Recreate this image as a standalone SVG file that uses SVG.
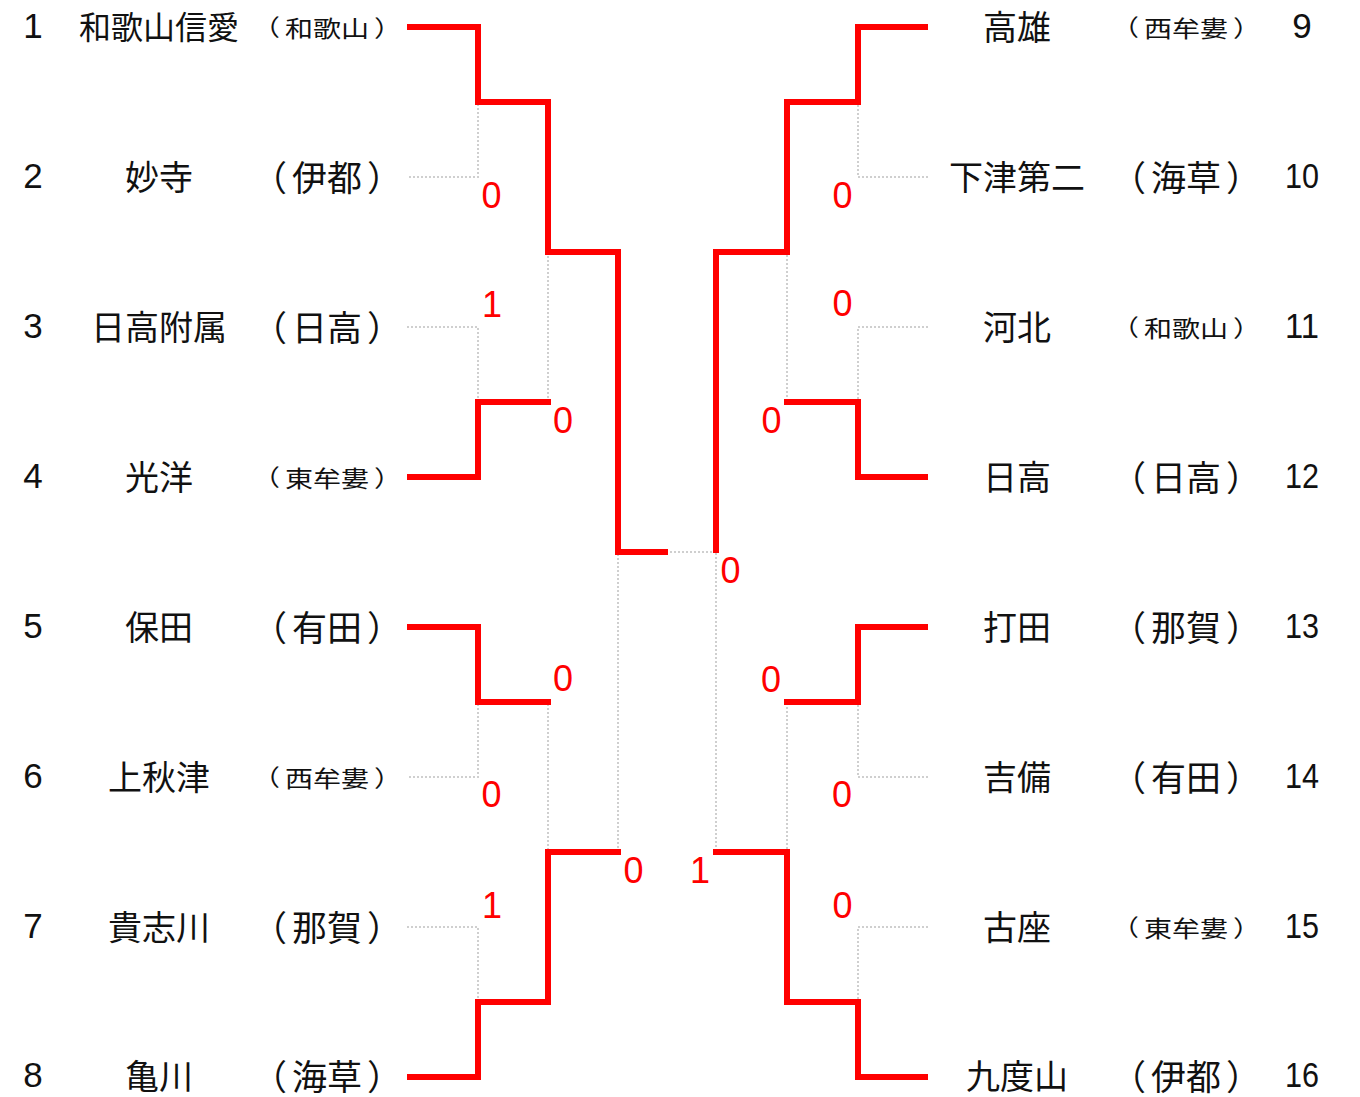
<svg xmlns="http://www.w3.org/2000/svg" width="1360" height="1097" viewBox="0 0 1360 1097">
<style>
.bg{fill:#fff}
.num{font-family:"Liberation Sans",Arial,sans-serif;font-size:35px;fill:#111;text-anchor:middle;dominant-baseline:central}
.name{font-family:"Noto Sans CJK JP","Noto Sans CJK SC",sans-serif;font-size:34px;fill:#111;text-anchor:middle;dominant-baseline:central}
.pref{font-family:"Noto Sans CJK JP","Noto Sans CJK SC",sans-serif;font-size:35px;fill:#111;text-anchor:middle;dominant-baseline:central}
.prefs{font-family:"Noto Sans CJK JP","Noto Sans CJK SC",sans-serif;font-size:23px;fill:#111;text-anchor:middle;dominant-baseline:central}
.grey{fill:none;stroke:#cfcfcf;stroke-width:2;stroke-dasharray:2 2}
.red{fill:none;stroke:#ff0000;stroke-width:6;stroke-linejoin:miter;stroke-linecap:butt}
.score{font-family:"Liberation Sans",Arial,sans-serif;font-size:36px;fill:#ff0000;text-anchor:middle}
</style>
<rect class="bg" x="0" y="0" width="1360" height="1097"/>
<g id="connectors">
<g id="bracket-grey">
<path class="grey" d="M407 27 H478 V177 H407"/>
<path class="grey" d="M407 327 H478 V477 H407"/>
<path class="grey" d="M407 627 H478 V777 H407"/>
<path class="grey" d="M407 927 H478 V1077 H407"/>
<path class="grey" d="M478 102 H548 V402 H478"/>
<path class="grey" d="M478 702 H548 V1002 H478"/>
<path class="grey" d="M548 252 H618 V852 H548"/>
<path class="grey" d="M618 552 H716"/>
<path class="grey" d="M928 27 H858 V177 H928"/>
<path class="grey" d="M928 327 H858 V477 H928"/>
<path class="grey" d="M928 627 H858 V777 H928"/>
<path class="grey" d="M928 927 H858 V1077 H928"/>
<path class="grey" d="M858 102 H787 V402 H858"/>
<path class="grey" d="M858 702 H787 V1002 H858"/>
<path class="grey" d="M787 252 H716 V852 H787"/>
</g>
<g id="bracket-red">
<path class="red" d="M407 27 H478 V102 H548 V252 H618 V552 H668"/>
<path class="red" d="M407 477 H478 V402 H551"/>
<path class="red" d="M407 627 H478 V702 H551"/>
<path class="red" d="M407 1077 H478 V1002 H548 V852 H621"/>
<path class="red" d="M928 27 H858 V102 H787 V252 H716 V553"/>
<path class="red" d="M928 477 H858 V402 H784"/>
<path class="red" d="M928 627 H858 V702 H784"/>
<path class="red" d="M928 1077 H858 V1002 H787 V852 H713"/>
</g>
</g>
<g id="scores">
<text class="score" x="491.5" y="208">0</text>
<text class="score" x="492" y="317">1</text>
<text class="score" x="563" y="433">0</text>
<text class="score" x="563" y="691">0</text>
<text class="score" x="491.5" y="807">0</text>
<text class="score" x="633.5" y="883">0</text>
<text class="score" x="492" y="918">1</text>
<text class="score" x="730.5" y="583">0</text>
<text class="score" x="842.5" y="208">0</text>
<text class="score" x="842.5" y="316">0</text>
<text class="score" x="771.5" y="433">0</text>
<text class="score" x="771" y="692">0</text>
<text class="score" x="842" y="807">0</text>
<text class="score" x="700" y="883">1</text>
<text class="score" x="842.5" y="918">0</text>
</g>
<g id="team-1"><text class="num" x="33" y="25">1</text><text class="name" x="159" y="25" style="font-size:32px">和歌山信愛</text><text class="prefs" transform="translate(327 26) scale(1.22 1)">（<tspan dx="4">和歌山</tspan><tspan dx="4">）</tspan></text></g>
<g id="team-2"><text class="num" x="33" y="175">2</text><text class="name" x="159" y="175">妙寺</text><text class="pref" x="327" y="175">（<tspan dx="5">伊都</tspan><tspan dx="5">）</tspan></text></g>
<g id="team-3"><text class="num" x="33" y="325">3</text><text class="name" x="159" y="325">日高附属</text><text class="pref" x="327" y="325">（<tspan dx="5">日高</tspan><tspan dx="5">）</tspan></text></g>
<g id="team-4"><text class="num" x="33" y="475">4</text><text class="name" x="159" y="475">光洋</text><text class="prefs" transform="translate(327 476) scale(1.22 1)">（<tspan dx="4">東牟婁</tspan><tspan dx="4">）</tspan></text></g>
<g id="team-5"><text class="num" x="33" y="625">5</text><text class="name" x="159" y="625">保田</text><text class="pref" x="327" y="625">（<tspan dx="5">有田</tspan><tspan dx="5">）</tspan></text></g>
<g id="team-6"><text class="num" x="33" y="775">6</text><text class="name" x="159" y="775">上秋津</text><text class="prefs" transform="translate(327 776) scale(1.22 1)">（<tspan dx="4">西牟婁</tspan><tspan dx="4">）</tspan></text></g>
<g id="team-7"><text class="num" x="33" y="925">7</text><text class="name" x="159" y="925">貴志川</text><text class="pref" x="327" y="925">（<tspan dx="5">那賀</tspan><tspan dx="5">）</tspan></text></g>
<g id="team-8"><text class="num" x="33" y="1074">8</text><text class="name" x="159" y="1074">亀川</text><text class="pref" x="327" y="1074">（<tspan dx="5">海草</tspan><tspan dx="5">）</tspan></text></g>
<g id="team-9"><text class="name" x="1017" y="25">高雄</text><text class="prefs" transform="translate(1186 26) scale(1.22 1)">（<tspan dx="4">西牟婁</tspan><tspan dx="4">）</tspan></text><text class="num" x="1302" y="25">9</text></g>
<g id="team-10"><text class="name" x="1017" y="175">下津第二</text><text class="pref" x="1186" y="175">（<tspan dx="5">海草</tspan><tspan dx="5">）</tspan></text><text class="num" x="1302" y="175" textLength="34" lengthAdjust="spacingAndGlyphs">10</text></g>
<g id="team-11"><text class="name" x="1017" y="325">河北</text><text class="prefs" transform="translate(1186 326) scale(1.22 1)">（<tspan dx="4">和歌山</tspan><tspan dx="4">）</tspan></text><text class="num" x="1302" y="325" textLength="34" lengthAdjust="spacingAndGlyphs">11</text></g>
<g id="team-12"><text class="name" x="1017" y="475">日高</text><text class="pref" x="1186" y="475">（<tspan dx="5">日高</tspan><tspan dx="5">）</tspan></text><text class="num" x="1302" y="475" textLength="34" lengthAdjust="spacingAndGlyphs">12</text></g>
<g id="team-13"><text class="name" x="1017" y="625">打田</text><text class="pref" x="1186" y="625">（<tspan dx="5">那賀</tspan><tspan dx="5">）</tspan></text><text class="num" x="1302" y="625" textLength="34" lengthAdjust="spacingAndGlyphs">13</text></g>
<g id="team-14"><text class="name" x="1017" y="775">吉備</text><text class="pref" x="1186" y="775">（<tspan dx="5">有田</tspan><tspan dx="5">）</tspan></text><text class="num" x="1302" y="775" textLength="34" lengthAdjust="spacingAndGlyphs">14</text></g>
<g id="team-15"><text class="name" x="1017" y="925">古座</text><text class="prefs" transform="translate(1186 926) scale(1.22 1)">（<tspan dx="4">東牟婁</tspan><tspan dx="4">）</tspan></text><text class="num" x="1302" y="925" textLength="34" lengthAdjust="spacingAndGlyphs">15</text></g>
<g id="team-16"><text class="name" x="1017" y="1074">九度山</text><text class="pref" x="1186" y="1074">（<tspan dx="5">伊都</tspan><tspan dx="5">）</tspan></text><text class="num" x="1302" y="1074" textLength="34" lengthAdjust="spacingAndGlyphs">16</text></g>
</svg>
